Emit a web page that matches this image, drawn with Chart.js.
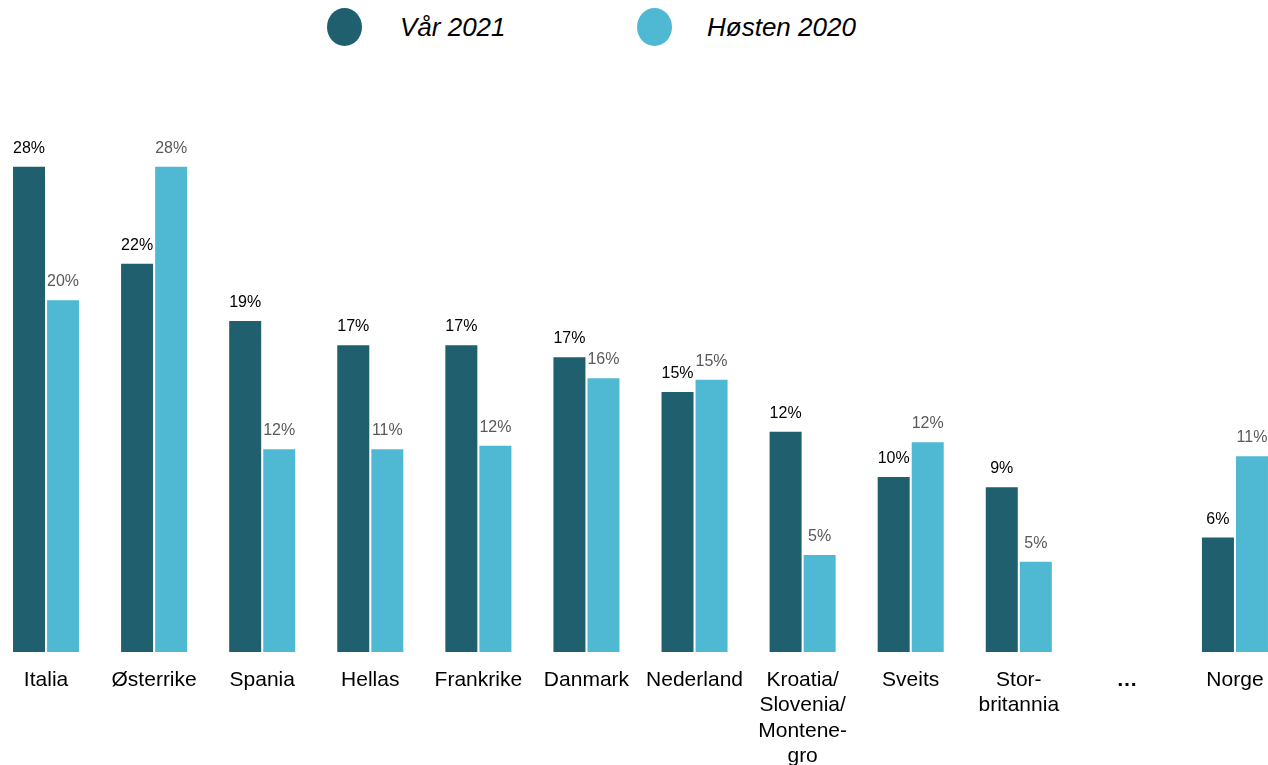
<!DOCTYPE html>
<html>
<head>
<meta charset="utf-8">
<script src="https://cdn.jsdelivr.net/npm/chart.js@4.4.1/dist/chart.umd.min.js"></script>
<style>
  html, body { margin: 0; padding: 0; background: #fff; overflow: hidden; }
  body { width: 1268px; height: 765px; position: relative; font-family: "Liberation Sans", Arial, sans-serif; }
  #chart { position: absolute; left: -8px; top: 0; }
  .leg-dot { position: absolute; width: 35px; height: 38px; border-radius: 50%; top: 8px; }
  .leg-txt { position: absolute; top: 12px; font-size: 26px; font-style: italic; color: #000; }
</style>
</head>
<body>
<div class="leg-dot" style="left:327px; background:#1F5F6E"></div>
<div class="leg-txt" style="left:400px">Vår 2021</div>
<div class="leg-dot" style="left:637px; background:#4FB9D3"></div>
<div class="leg-txt" style="left:707px">Høsten 2020</div>
<canvas id="chart" width="1297" height="765"></canvas>
<script>
// Kategorier (land)
const categories = [
  'Italia', 'Østerrike', 'Spania', 'Hellas', 'Frankrike', 'Danmark', 'Nederland',
  ['Kroatia/', 'Slovenia/', 'Montene-', 'gro'], 'Sveits', ['Stor-', 'britannia'], '…', 'Norge'
];

// Verdier lest av bildet (prosent)
const var2021 = [28.0, 22.4, 19.1, 17.7, 17.7, 17.0, 15.0, 12.7, 10.1, 9.5, null, 6.6];
const host2020 = [20.3, 28.0, 11.7, 11.7, 11.9, 15.8, 15.7, 5.6, 12.1, 5.2, null, 11.3];

// Etiketter over søylene
const var2021Labels = ['28%', '22%', '19%', '17%', '17%', '17%', '15%', '12%', '10%', '9%', '', '6%'];
const host2020Labels = ['20%', '28%', '12%', '11%', '12%', '16%', '15%', '5%', '12%', '5%', '', '11%'];

// Plugin for å tegne verdietiketter over søylene
const valueLabels = {
  id: 'valueLabels',
  afterDatasetsDraw(chart) {
    const ctx = chart.ctx;
    const allLabels = [var2021Labels, host2020Labels];
    const colors = ['#000000', '#595959'];
    ctx.save();
    ctx.font = '16px "Liberation Sans", Arial, sans-serif';
    ctx.textAlign = 'center';
    ctx.textBaseline = 'alphabetic';
    chart.data.datasets.forEach((ds, i) => {
      const meta = chart.getDatasetMeta(i);
      ctx.fillStyle = colors[i];
      meta.data.forEach((bar, j) => {
        const txt = allLabels[i][j];
        if (!txt || ds.data[j] == null) return;
        ctx.fillText(txt, bar.x, bar.y - 14);
      });
    });
    ctx.restore();
  }
};

const ctx = document.getElementById('chart').getContext('2d');
new Chart(ctx, {
  type: 'bar',
  data: {
    labels: categories,
    datasets: [
      {
        label: 'Vår 2021',
        data: var2021,
        backgroundColor: '#1F5F6E',
        borderWidth: 0,
        barPercentage: 0.94,
        categoryPercentage: 0.63
      },
      {
        label: 'Høsten 2020',
        data: host2020,
        backgroundColor: '#4FB9D3',
        borderWidth: 0,
        barPercentage: 0.94,
        categoryPercentage: 0.63
      }
    ]
  },
  options: {
    responsive: false,
    animation: false,
    layout: { padding: { top: 132, left: 0, right: 0, bottom: 0 } },
    plugins: {
      legend: { display: false },
      tooltip: { enabled: false }
    },
    scales: {
      x: {
        grid: { display: false },
        border: { display: false },
        ticks: {
          color: '#000',
          padding: 7,
          maxRotation: 0,
          autoSkip: false,
          font: (c) => ({
            family: '"Liberation Sans", Arial, sans-serif',
            size: 21,
            lineHeight: 1.22,
            weight: c.index === 10 ? 'bold' : 'normal'
          })
        },
        afterFit(scale) { scale.height = 113; }
      },
      y: {
        display: false,
        min: 0,
        max: 30
      }
    }
  },
  plugins: [valueLabels]
});
</script>
</body>
</html>
